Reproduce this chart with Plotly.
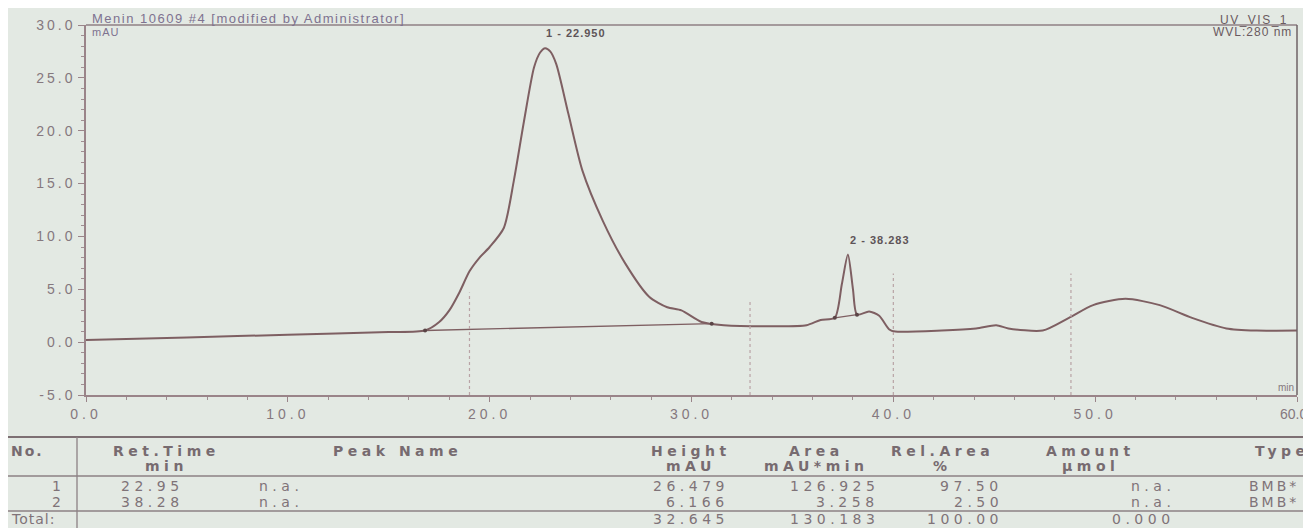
import plotly.graph_objects as go

# ---------------- data ----------------
time_min = [0, 5, 10, 15, 16.8, 17.5, 18.0, 18.5, 19.0, 19.5, 20.0, 20.7, 21.2, 21.7,
            22.2, 22.5, 22.75, 23.0, 23.3, 23.9, 24.6, 25.6, 26.7,
            27.9, 28.8, 29.5, 30.5, 31.6, 34.1, 35.7, 36.4, 37.1,
            37.45, 37.75, 38.0, 38.2, 38.8, 39.3, 39.8, 40.1, 42.4, 44.1, 45.1, 45.7,
            47.4, 48.7, 49.9, 51.5, 53.2, 54.8, 56.5, 58.0, 60.0]
signal_mau = [0.2, 0.45, 0.7, 0.95, 1.1, 1.9, 3.0, 4.7, 6.7, 8.0, 9.0, 10.8, 15.3, 20.9,
              26.0, 27.4, 27.8, 27.5, 26.3, 21.6, 16.2, 11.5, 7.5,
              4.3, 3.3, 3.0, 1.9, 1.6, 1.5, 1.6, 2.1, 2.3,
              5.5, 8.3, 5.0, 2.6, 2.9, 2.5, 1.2, 1.0, 1.1, 1.3, 1.6, 1.3,
              1.1, 2.3, 3.5, 4.1, 3.5, 2.3, 1.3, 1.1, 1.1]

# integration baselines (start/end of each peak)
peak1_base_t = [16.8, 31.0]
peak1_base_v = [1.1, 1.75]
peak2_base_t = [37.1, 38.2]
peak2_base_v = [2.3, 2.6]

peak_labels = ["1 - 22.950", "2 - 38.283"]
peak_label_t = [22.7, 37.75]
peak_label_v = [28.5, 8.9]

event_marks_t = [19.0, 32.9, 40.0, 48.8]
event_marks_top = [4.7, 4.0, 6.5, 6.5]

x_ticks = [0, 10, 20, 30, 40, 50, 60]
y_ticks = [-5, 0, 5, 10, 15, 20, 25, 30]

# table
tbl_headers = ["Ret.Time", "Peak Name", "Height", "Area", "Rel.Area", "Amount", "Type"]
tbl_units = ["min", "", "mAU", "mAU*min", "%", "µmol", ""]
tbl_no = ["1", "2"]
tbl_ret = ["22.95", "38.28"]
tbl_name = ["n.a.", "n.a."]
tbl_height = ["26.479", "6.166"]
tbl_area = ["126.925", "3.258"]
tbl_rel = ["97.50", "2.50"]
tbl_amount = ["n.a.", "n.a."]
tbl_type = ["BMB*", "BMB*"]
tbl_total = ["32.645", "130.183", "100.00", "0.000"]

# ---------------- styling ----------------
BG = "#e3e9e3"
INK = "#7e5f62"
TXT = "#85787e"
FONT = "Liberation Sans"
TFONT = "DejaVu Sans"

OFF = 8                       # page body margin
W, H = 1311 - OFF, 528 - OFF  # figure size
# plot area, in figure pixels
L, R, T, B = 86 - OFF, 1297 - OFF, 25 - OFF, 395 - OFF


def px(x):  # x given in screen pixels
    return (x - OFF - L) / (R - L)


def py(y):  # y given in screen pixels
    return (B - (y - OFF)) / (B - T)


def spaced(s, ls):
    return f'<span style="letter-spacing:{ls}px">{s}</span>'


fig = go.Figure()

fig.add_trace(go.Scatter(x=time_min, y=signal_mau, mode="lines",
                         line=dict(color=INK, width=2, shape="spline", smoothing=0.7),
                         hoverinfo="skip", showlegend=False))
for bt, bv in [(peak1_base_t, peak1_base_v), (peak2_base_t, peak2_base_v)]:
    fig.add_trace(go.Scatter(x=bt, y=bv, mode="lines+markers",
                             line=dict(color=INK, width=1.3),
                             marker=dict(color="#5a4446", size=4),
                             hoverinfo="skip", showlegend=False))

for t, top in zip(event_marks_t, event_marks_top):
    fig.add_shape(type="line", x0=t, x1=t, y0=-5, y1=top, xref="x", yref="y",
                  line=dict(color="#b9a3a6", width=1.2, dash="dot"))

for lab, t, v in zip(peak_labels, peak_label_t, peak_label_v):
    fig.add_annotation(x=t, y=v, text="<b>" + spaced(lab, 1) + "</b>", showarrow=False,
                       xanchor="left", yanchor="bottom",
                       font=dict(family=FONT, size=11, color="#5e5458"))

# last x tick label is drawn separately so it stays inside the page
x_ticktext = [spaced(f"{v:.1f}", 4) for v in x_ticks[:-1]] + [""]
fig.update_xaxes(range=[0, 60], tickvals=x_ticks, ticktext=x_ticktext,
                 showgrid=False, zeroline=False, showline=True, linecolor="#9a8489",
                 linewidth=1.5, ticks="outside", ticklen=5, tickcolor="#9a8489",
                 minor=dict(dtick=2, ticks="outside", ticklen=3, tickcolor="#a08e92"),
                 tickfont=dict(family=FONT, size=14, color=TXT), mirror=False)
fig.add_annotation(x=x_ticks[-1], y=-5, xref="x", yref="y", text=f"{x_ticks[-1]:.1f}",
                   showarrow=False, xanchor="right", yanchor="top", xshift=11, yshift=-10,
                   font=dict(family=FONT, size=14, color=TXT), borderpad=0)
fig.update_yaxes(range=[-5, 30], tickvals=y_ticks,
                 ticktext=[spaced(f"{v:.1f}", 3) for v in y_ticks],
                 showgrid=False, zeroline=False, showline=True, linecolor="#9a8489",
                 linewidth=1.5, ticks="outside", ticklen=6, tickcolor="#9a8489",
                 minor=dict(dtick=1, ticks="outside", ticklen=3, tickcolor="#a08e92"),
                 tickfont=dict(family=FONT, size=14, color=TXT))

# frame: top and right
fig.add_shape(type="line", xref="paper", yref="paper", x0=0, x1=1, y0=1, y1=1,
              line=dict(color="#8f7f84", width=1.3))
fig.add_shape(type="line", xref="paper", yref="paper", x0=1, x1=1, y0=0, y1=1,
              line=dict(color="#6f6266", width=1.5))

# header texts
fig.add_annotation(xref="paper", yref="paper", x=px(90), y=py(19),
                   text=spaced("Menin 10609 #4 [modified by Administrator]", 1.5),
                   showarrow=False, xanchor="left", yanchor="middle",
                   font=dict(family=FONT, size=13, color="#7e7290"))
fig.add_annotation(xref="paper", yref="paper", x=px(90), y=py(32), text=spaced("mAU", 1),
                   showarrow=False, xanchor="left", yanchor="middle",
                   font=dict(family=FONT, size=11, color="#7e7290"))
fig.add_annotation(xref="paper", yref="paper", x=px(1290), y=py(20),
                   text=spaced("UV_VIS_1", 1.5),
                   showarrow=False, xanchor="right", yanchor="middle",
                   font=dict(family=FONT, size=12, color="#6a5a60"))
fig.add_annotation(xref="paper", yref="paper", x=px(1294), y=py(32),
                   text=spaced("WVL:280 nm", 1),
                   showarrow=False, xanchor="right", yanchor="middle",
                   font=dict(family=FONT, size=12, color="#6a5a60"))
fig.add_annotation(xref="paper", yref="paper", x=px(1296), y=py(387), text="min",
                   showarrow=False, xanchor="right", yanchor="middle",
                   font=dict(family=FONT, size=10, color=TXT))

# table lines
for yy, wdt, col in [(437, 2.2, "#7d6f73"), (476, 1.3, "#8d8185"), (511, 1.3, "#8d8185")]:
    fig.add_shape(type="line", xref="paper", yref="paper", x0=px(0), x1=px(1311),
                  y0=py(yy), y1=py(yy), line=dict(color=col, width=wdt))
fig.add_shape(type="line", xref="paper", yref="paper", x0=px(77), x1=px(77),
              y0=py(437), y1=py(528), line=dict(color="#8d8185", width=1.3))

TF = dict(family=TFONT, size=14, color="#7f7378")
HF = dict(family=TFONT, size=14, color="#776b70")


def txt(x, y, s, anchor="center", f=TF, ls=4.5, bold=False):
    s = spaced(s, ls)
    if bold:
        s = "<b>" + s + "</b>"
    fig.add_annotation(xref="paper", yref="paper", x=px(x), y=py(y), text=s,
                       showarrow=False, xanchor=anchor, yanchor="middle", font=f,
                       borderpad=0)


txt(10, 451, "No.", "left", HF, 2, True)
hdr_x = [166, 397, 691, 816, 942, 1090, 1282]
for hx, h, u in zip(hdr_x, tbl_headers, tbl_units):
    txt(hx, 451, h, "center", HF, 4.5, True)
    if u:
        txt(hx, 466, u, "center", HF, 4.5, True)

row_y = [486, 502]
for i, ry in enumerate(row_y):
    txt(66, ry, tbl_no[i], "right")
    txt(152, ry, tbl_ret[i], "center")
    txt(258, ry, tbl_name[i], "left")
    txt(730, ry, tbl_height[i], "right")
    txt(880, ry, tbl_area[i], "right")
    txt(1004, ry, tbl_rel[i], "right")
    txt(1176, ry, tbl_amount[i], "right")
    txt(1248, ry, tbl_type[i], "left", ls=3)

txt(10, 519, "Total:", "left", ls=1)
for tx, tv in zip([730, 880, 1004, 1176], tbl_total):
    txt(tx, 519, tv, "right")

fig.update_layout(width=W, height=H, paper_bgcolor=BG, plot_bgcolor=BG,
                  margin=dict(l=L, r=W - R, t=T, b=H - B, autoexpand=False),
                  showlegend=False)

fig.write_html("out.html")
